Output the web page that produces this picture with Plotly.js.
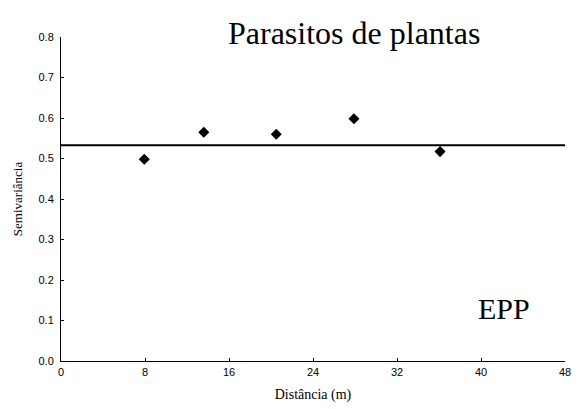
<!DOCTYPE html>
<html>
<head>
<meta charset="utf-8">
<script src="https://cdn.plot.ly/plotly-3.0.1.min.js"></script>
<style>
  html, body { margin: 0; padding: 0; background: #fff; }
  #chart { width: 579px; height: 409px; }
</style>
</head>
<body>
<div id="chart"></div>
<script>
// Experimental semivariance by lag distance
const distance = [7.93, 13.6, 20.5, 27.9, 36.1];
const semivariance = [0.498, 0.565, 0.560, 0.598, 0.517];

// Pure nugget model (flat sill)
const modelX = [0, 48];
const modelSill = [0.533, 0.533];

const xTicks = [0, 8, 16, 24, 32, 40, 48];
const yTicks = [0.0, 0.1, 0.2, 0.3, 0.4, 0.5, 0.6, 0.7, 0.8];

const SERIF = '"Liberation Serif", "Times New Roman", serif';
const SANS = '"Liberation Sans", Arial, sans-serif';

const traces = [
  {
    x: modelX, y: modelSill, mode: 'lines', type: 'scatter',
    line: { color: '#000', width: 2 }, hoverinfo: 'skip'
  },
  {
    x: distance, y: semivariance, mode: 'markers', type: 'scatter',
    marker: { symbol: 'diamond', size: 8.5, color: '#000' }
  }
];

const layout = {
  width: 579, height: 409,
  margin: { l: 61, r: 14, t: 37, b: 48 },
  paper_bgcolor: '#fff', plot_bgcolor: '#fff',
  showlegend: false,
  font: { family: SANS, color: '#000' },
  xaxis: {
    range: [0, 48], tickvals: xTicks, ticktext: xTicks.map(String),
    showgrid: false, zeroline: false, showline: true, linecolor: '#000', linewidth: 1,
    ticks: 'inside', ticklen: 3, tickcolor: '#000', ticklabelstandoff: 1,
    tickfont: { size: 11, family: SANS },
    title: { text: 'Distância (m)', font: { size: 14, family: SERIF }, standoff: 11 }
  },
  yaxis: {
    range: [0, 0.8], tickvals: yTicks, ticktext: yTicks.map(v => v.toFixed(1)),
    showgrid: false, zeroline: false, showline: true, linecolor: '#000', linewidth: 1,
    ticks: 'inside', ticklen: 3, tickcolor: '#000', ticklabelstandoff: 4,
    tickfont: { size: 11, family: SANS },
    title: { text: 'Semivariância', font: { size: 13, family: SERIF }, standoff: 12 }
  },
  annotations: [
    {
      text: 'Parasitos de plantas', xref: 'paper', yref: 'paper',
      x: 0.581, y: 1.013, xanchor: 'center', yanchor: 'middle', showarrow: false,
      font: { size: 32, family: SERIF, color: '#000' }
    },
    {
      text: 'EPP', xref: 'paper', yref: 'paper',
      x: 0.879, y: 0.161, xanchor: 'center', yanchor: 'middle', showarrow: false,
      font: { size: 30, family: SERIF, color: '#000' }
    }
  ]
};

Plotly.newPlot('chart', traces, layout, { displayModeBar: false, staticPlot: true });
</script>
</body>
</html>
